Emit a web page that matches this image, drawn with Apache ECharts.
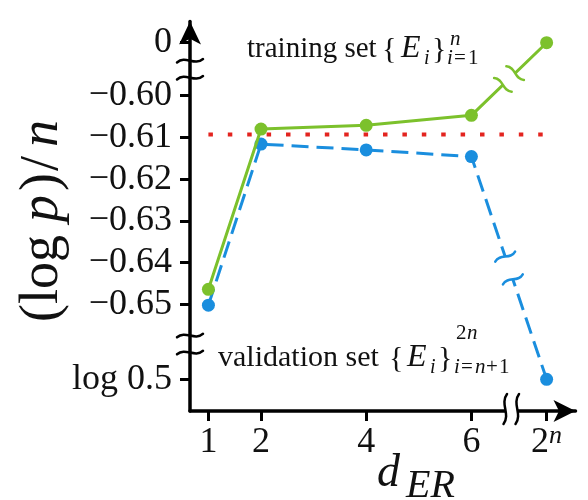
<!DOCTYPE html>
<html><head><meta charset="utf-8">
<script src="https://cdn.jsdelivr.net/npm/echarts@6/dist/echarts.min.js"></script>
<style>html,body{margin:0;padding:0;background:#fff}#c{width:588px;height:500px}</style>
</head><body><div id="c"></div>
<script>
// ---------------- data ----------------
const dER = ['1', '2', '4', '6', '2^n'];
const trainingLogP = [-0.6464, -0.6080, -0.6071, -0.6047, 0];
const validationLogP = [-0.6502, -0.6116, -0.6130, -0.6146, Math.log(0.5)];
const referenceLevel = -0.6093;
const yTickValues = [0, -0.60, -0.61, -0.62, -0.63, -0.64, -0.65, Math.log(0.5)];
const yTickLabels = ['0', '\u22120.60', '\u22120.61', '\u22120.62', '\u22120.63', '\u22120.64', '\u22120.65', 'log 0.5'];
const xTickLabels = ['1', '2', '4', '6', '2^n'];

// ---------------- broken-axis scales ----------------
const LOG_HALF = Math.log(0.5);
function yScale(v) {            // middle segment linear, 0 and log 0.5 on the outer segments
  if (v > -0.595) return v - 0.58730;
  if (v < -0.66) return v - LOG_HALF - 0.66798;
  return v;
}
function xScale(c) { return c === '2^n' ? 7.43 : Number(c); }

const FONT = 'Liberation Serif';
const GREEN = '#7cc12c', BLUE = '#1a8ede', RED = '#e3241f', INK = '#111';

const yTickPos = yTickValues.map(yScale);
const xTickPos = dER.map(xScale);

const chart = echarts.init(document.getElementById('c'), null, {renderer: 'canvas'});
chart.setOption({
  animation: false,
  backgroundColor: '#fff',
  grid: {left: 190, right: 12.5, top: 21.5, bottom: 89, containLabel: false},
  xAxis: {
    type: 'value', min: 0.65, max: 7.979,
    axisLine: {show: true, onZero: false, symbol: ['none', 'arrow'], symbolSize: [16.5, 22],
      lineStyle: {color: '#000', width: 3.5}},
    axisTick: {show: true, inside: false, length: 10, customValues: xTickPos, lineStyle: {color: '#000', width: 3}},
    axisLabel: {
      customValues: xTickPos, margin: 12,
      formatter: v => {
        const i = xTickPos.findIndex(p => Math.abs(p - v) < 1e-6);
        if (i < 0) return '';
        const s = xTickLabels[i];
        return s === '2^n' ? '{b|2}{sup|n}' : '{b|' + s + '}';
      },
      rich: {
        b: {fontFamily: FONT, fontSize: 36, color: INK, lineHeight: 40},
        sup: {fontFamily: FONT, fontSize: 26, fontStyle: 'italic', color: INK, lineHeight: 18, verticalAlign: 'top'}
      }
    },
    splitLine: {show: false}
  },
  yAxis: {
    type: 'value', min: -0.675575, max: -0.582215,
    axisLine: {show: true, onZero: false, symbol: ['none', 'arrow'], symbolSize: [16.5, 23],
      lineStyle: {color: '#000', width: 3.5}},
    axisTick: {show: true, inside: false, length: 10, customValues: yTickPos, lineStyle: {color: '#000', width: 3}},
    axisLabel: {
      customValues: yTickPos, margin: 18, fontFamily: FONT, fontSize: 36, color: INK,
      formatter: v => {
        const i = yTickPos.findIndex(p => Math.abs(p - v) < 1e-6);
        return i >= 0 ? yTickLabels[i] : '';
      }
    },
    splitLine: {show: false}
  },
  series: [
    {
      name: 'reference', type: 'line', symbol: 'none', z: 1,
      data: [[xScale(dER[0]), yScale(referenceLevel)], [xScale(dER[dER.length - 1]), yScale(referenceLevel)]],
      lineStyle: {color: RED, width: 4, type: [4.5, 14.9], cap: 'butt'}
    },
    {
      name: 'validation', type: 'line', symbol: 'circle', symbolSize: 13, z: 3,
      data: dER.map((c, i) => [xScale(c), yScale(validationLogP[i])]),
      itemStyle: {color: BLUE}, lineStyle: {color: BLUE, width: 3, type: [17, 8]}
    },
    {
      name: 'training', type: 'line', symbol: 'circle', symbolSize: 13, z: 4,
      data: dER.map((c, i) => [xScale(c), yScale(trainingLogP[i])]),
      itemStyle: {color: GREEN}, lineStyle: {color: GREEN, width: 3}
    }
  ]
});

// ---------------- decorations: breaks and annotations ----------------
const px = (x, y) => chart.convertToPixel({gridIndex: 0}, [x, y]);
function tilde(cx, cy, ux, uy, w, h, color, lw) {
  const nx = -uy, ny = ux;
  const P = (s, q) => [cx + ux * s + nx * q, cy + uy * s + ny * q];
  const a = P(-w, 0.35 * h), c1 = P(-0.35 * w, -1.1 * h), c2 = P(0.35 * w, 1.1 * h), b = P(w, -0.35 * h);
  return {
    type: 'bezierCurve', z: 100,
    shape: {x1: a[0], y1: a[1], cpx1: c1[0], cpy1: c1[1], cpx2: c2[0], cpy2: c2[1], x2: b[0], y2: b[1]},
    style: {stroke: color, lineWidth: lw, fill: null, lineCap: 'round'}
  };
}
function lineBreak(p0, p1, color, half, w, h) {
  const dx = p1[0] - p0[0], dy = p1[1] - p0[1], L = Math.hypot(dx, dy);
  const ux = dx / L, uy = dy / L, mx = (p0[0] + p1[0]) / 2, my = (p0[1] + p1[1]) / 2;
  const a = [mx - ux * half, my - uy * half], b = [mx + ux * half, my + uy * half];
  return [
    {type: 'line', z: 99, shape: {x1: a[0], y1: a[1], x2: b[0], y2: b[1]}, style: {stroke: '#fff', lineWidth: 8}},
    tilde(a[0], a[1], -uy, ux, w, h, color, 2.5),
    tilde(b[0], b[1], -uy, ux, w, h, color, 2.5)
  ];
}
function T(x, baseline, text, size, italic) {
  return {
    type: 'text', z: 100, x: x, y: baseline - 0.34 * size,
    style: {text: text, fontFamily: FONT, fontSize: size, fontStyle: italic ? 'italic' : 'normal', fontWeight: 'normal',
      fill: INK, align: 'left', verticalAlign: 'middle', textAlign: 'left', textVerticalAlign: 'middle'}
  };
}
// rotated (bottom-to-top) text piece starting at screen y = start, centred on x
function V(x, start, text, size, italic) {
  return {
    type: 'text', z: 100, x: x, y: start, rotation: Math.PI / 2,
    style: {text: text, fontFamily: FONT, fontSize: size, fontStyle: italic ? 'italic' : 'normal', fontWeight: 'normal',
      fill: INK, align: 'left', verticalAlign: 'middle', textAlign: 'left', textVerticalAlign: 'middle'}
  };
}

const g = [];
// y-axis breaks
const yTop0 = px(0.65, yScale(0))[1], yTop1 = px(0.65, -0.60)[1];
const yBot0 = px(0.65, -0.65)[1], yBot1 = px(0.65, yScale(LOG_HALF))[1];
const axX = px(0.65, -0.6)[0];
const ymTop = (yTop0 + yTop1) / 2, ymBot = yBot0 + 0.53 * (yBot1 - yBot0);
[ymTop - 8.5, ymTop + 8.5, ymBot - 8.5, ymBot + 8.5].forEach(y => g.push(tilde(axX, y, 1, 0, 13, 5, '#000', 2.5)));
// x-axis break
const x6 = px(xScale('6'), -0.6)[0], x2n = px(xScale('2^n'), -0.6)[0];
const axY = px(1, -0.675575)[1];
const xmB = x6 + 0.53 * (x2n - x6);
g.push({type: 'rect', z: 99, shape: {x: xmB - 6, y: axY - 3, width: 12, height: 6}, style: {fill: '#fff'}});
[xmB - 6, xmB + 6].forEach(x => g.push(tilde(x, axY - 2, 0, 1, 15, -5, '#000', 2.5)));
// series line breaks between d=6 and d=2^n
const n = dER.length;
g.push(...lineBreak(px(xScale(dER[n - 2]), yScale(trainingLogP[n - 2])), px(xScale(dER[n - 1]), yScale(trainingLogP[n - 1])), GREEN, 8.5, 11, 4.5));
g.push(...lineBreak(px(xScale(dER[n - 2]), yScale(validationLogP[n - 2])), px(xScale(dER[n - 1]), yScale(validationLogP[n - 1])), BLUE, 12, 11, 4.5));

// annotations
g.push(T(247, 59, 'training set', 29));
g.push(T(382, 60, '{', 30));
g.push(T(401, 59, 'E', 32, true));
g.push(T(424, 66, 'i', 20, true));
g.push(T(432, 60, '}', 30));
g.push(T(450, 47, 'n', 21, true));
g.push(T(447, 66, 'i', 21, true));
g.push(T(454, 66, '=', 21));
g.push(T(468, 66, '1', 21));

g.push(T(218, 368, 'validation set', 30));
g.push(T(389, 369, '{', 30));
g.push(T(407, 368, 'E', 32, true));
g.push(T(430, 375, 'i', 20, true));
g.push(T(438, 369, '}', 30));
g.push(T(456, 341, '2', 21));
g.push(T(467, 341, 'n', 21, true));
g.push(T(454, 375, 'i', 21, true));
g.push(T(461, 375, '=', 21));
g.push(T(475, 375, 'n', 21, true));
g.push(T(486, 375, '+', 21));
g.push(T(499, 375, '1', 21));

// y-axis title "(log p)/n", reading bottom to top
g.push(V(43, 322, '(log', 54));
g.push(V(43, 222, 'p', 54, true));
g.push(V(43, 191, ')', 54));
g.push(V(43, 171, '/', 54));
g.push(V(43, 147, 'n', 54, true));
// x-axis title d_ER
g.push(T(377, 490, 'd', 46, true));
g.push(T(406, 500, 'ER', 40, true));

chart.setOption({graphic: {elements: g}});
</script>
</body></html>
